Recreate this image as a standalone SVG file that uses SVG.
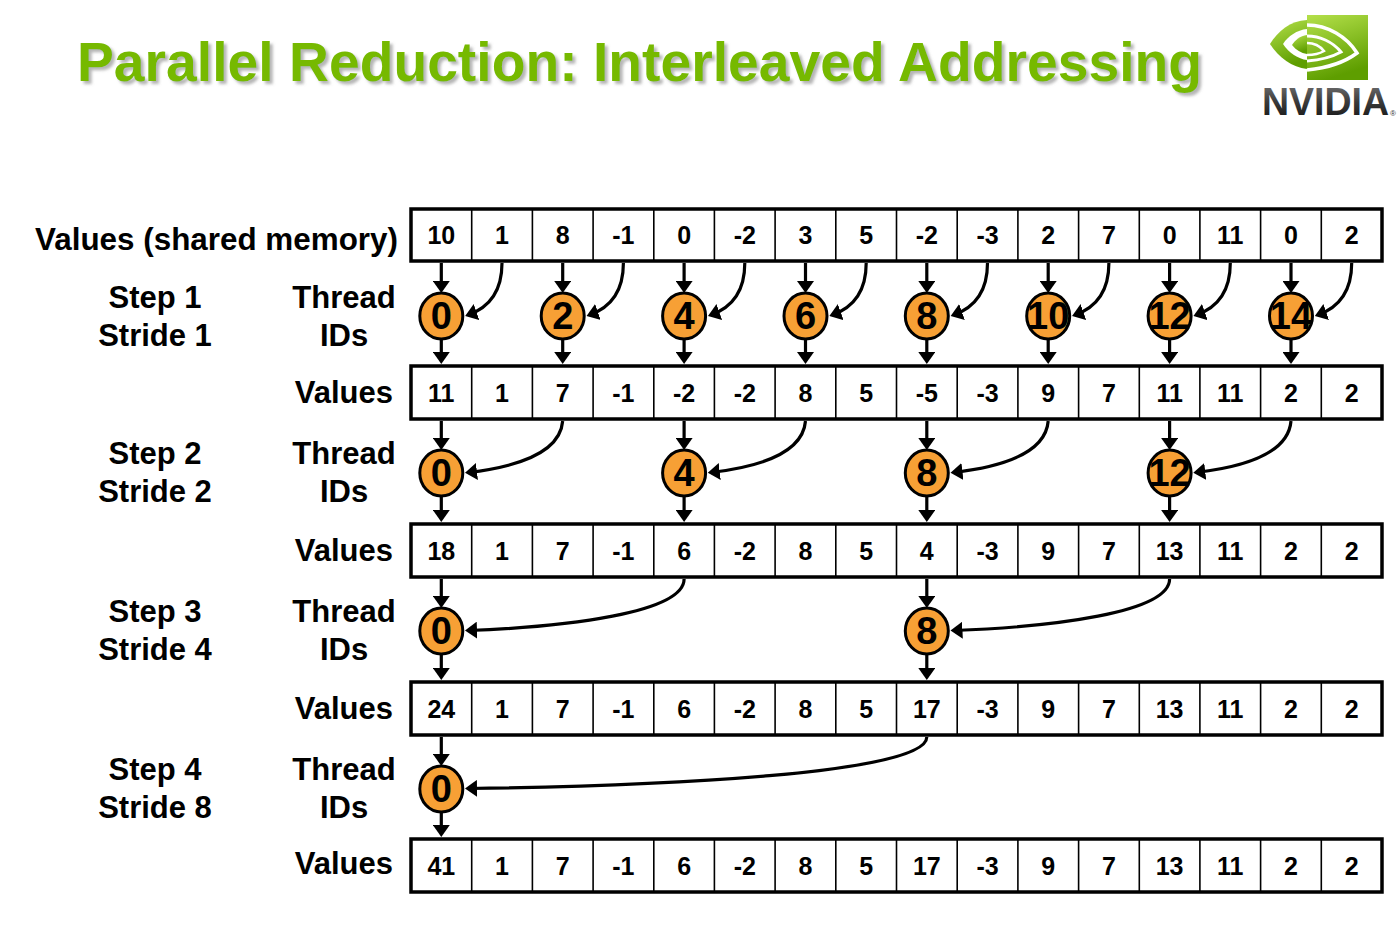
<svg xmlns="http://www.w3.org/2000/svg" width="1400" height="939" viewBox="0 0 1400 939">
<defs>
<style>
.title{font-family:"Liberation Sans",Arial,sans-serif;font-weight:bold;font-size:56px;fill:#76B900}
.lbl{font-family:"Liberation Sans",Arial,sans-serif;font-weight:bold;font-size:31px;fill:#000}
.cell{font-family:"Liberation Sans",Arial,sans-serif;font-weight:bold;font-size:25px;fill:#000;text-anchor:middle}
.tid{font-family:"Liberation Sans",Arial,sans-serif;font-weight:bold;font-size:38px;fill:#000;text-anchor:middle}
.box{fill:#fff;stroke:#000;stroke-width:3.5}
.div{stroke:#000;stroke-width:1.6}
.circ{fill:#F7A035;stroke:#000;stroke-width:3}
.arr{fill:none;stroke:#000;stroke-width:3.2;marker-end:url(#ah)}
</style>
<marker id="ah" viewBox="0 0 12 17" refX="9" refY="8.5" markerWidth="12" markerHeight="17" markerUnits="userSpaceOnUse" orient="auto">
<path d="M0,0 L12,8.5 L0,17 Z" fill="#000"/>
</marker>
<filter id="shadow" x="-5%" y="-30%" width="110%" height="160%">
<feDropShadow dx="3" dy="3" stdDeviation="1.5" flood-color="#777" flood-opacity="0.55"/>
</filter>
<linearGradient id="sq" x1="0" y1="0" x2="0.3" y2="1">
<stop offset="0" stop-color="#B4E04A"/>
<stop offset="1" stop-color="#5E9E00"/>
</linearGradient>
<linearGradient id="nv" x1="0" y1="0" x2="0" y2="1">
<stop offset="0" stop-color="#777"/>
<stop offset="0.5" stop-color="#3a3a3a"/>
<stop offset="1" stop-color="#111"/>
</linearGradient>
</defs>
<rect width="1400" height="939" fill="#fff"/>

<g id="title">
<text class="title" x="77" y="81" textLength="1125" lengthAdjust="spacingAndGlyphs" filter="url(#shadow)">Parallel Reduction: Interleaved Addressing</text>
</g>

<g id="logo">
<path d="M1307,20 C1290,21 1278,31 1270,44 C1279,58 1292,67 1307,69 Z" fill="url(#sq)"/>
<path d="M1307,29 C1297,30 1288,36 1283,44 C1289,53 1298,59 1307,60 Z" fill="#fff"/>
<path d="M1307,35 C1300,36 1295,40 1292,45 C1296,50 1301,53 1307,54 Z" fill="url(#sq)"/>
<rect x="1307" y="15" width="61" height="65" fill="url(#sq)"/>
<path d="M1307,25 C1328,25 1347,37 1357,53 C1345,62 1327,68 1307,70" fill="none" stroke="#fff" stroke-width="3.5"/>
<path d="M1307,36 C1320,36 1333,42 1341,52 C1332,57 1320,60 1307,61" fill="none" stroke="#fff" stroke-width="3"/>
<path d="M1307,43 C1314,43 1320,46 1324,51 C1319,54 1313,55 1307,55" fill="none" stroke="#fff" stroke-width="2.5"/>
<text x="1262" y="115" font-family="'Liberation Sans',Arial,sans-serif" font-weight="bold" font-size="38" textLength="127" lengthAdjust="spacingAndGlyphs" fill="url(#nv)">NVIDIA</text>
<text x="1390" y="116" font-family="'Liberation Sans',Arial,sans-serif" font-size="8" fill="#333">®</text>
</g>

<g id="labels">
<text class="lbl" x="398" y="250" text-anchor="end" textLength="363" lengthAdjust="spacingAndGlyphs">Values (shared memory)</text>
<text class="lbl" x="155" y="308" text-anchor="middle">Step 1</text>
<text class="lbl" x="155" y="346" text-anchor="middle">Stride 1</text>
<text class="lbl" x="344" y="308" text-anchor="middle">Thread</text>
<text class="lbl" x="344" y="346" text-anchor="middle">IDs</text>
<text class="lbl" x="393" y="403" text-anchor="end">Values</text>
<text class="lbl" x="155" y="464" text-anchor="middle">Step 2</text>
<text class="lbl" x="155" y="502" text-anchor="middle">Stride 2</text>
<text class="lbl" x="344" y="464" text-anchor="middle">Thread</text>
<text class="lbl" x="344" y="502" text-anchor="middle">IDs</text>
<text class="lbl" x="393" y="561" text-anchor="end">Values</text>
<text class="lbl" x="155" y="622" text-anchor="middle">Step 3</text>
<text class="lbl" x="155" y="660" text-anchor="middle">Stride 4</text>
<text class="lbl" x="344" y="622" text-anchor="middle">Thread</text>
<text class="lbl" x="344" y="660" text-anchor="middle">IDs</text>
<text class="lbl" x="393" y="719" text-anchor="end">Values</text>
<text class="lbl" x="155" y="780" text-anchor="middle">Step 4</text>
<text class="lbl" x="155" y="818" text-anchor="middle">Stride 8</text>
<text class="lbl" x="344" y="780" text-anchor="middle">Thread</text>
<text class="lbl" x="344" y="818" text-anchor="middle">IDs</text>
<text class="lbl" x="393" y="874" text-anchor="end">Values</text>
</g>

<g id="row0">
<rect class="box" x="411" y="209" width="971" height="52"/>
<path class="div" d="M471.7,209V261M532.4,209V261M593.1,209V261M653.8,209V261M714.4,209V261M775.1,209V261M835.8,209V261M896.5,209V261M957.2,209V261M1017.9,209V261M1078.6,209V261M1139.3,209V261M1199.9,209V261M1260.6,209V261M1321.3,209V261"/>
<text class="cell" y="244"><tspan x="441.3">10</tspan><tspan x="502">1</tspan><tspan x="562.7">8</tspan><tspan x="623.4">-1</tspan><tspan x="684.1">0</tspan><tspan x="744.8">-2</tspan><tspan x="805.5">3</tspan><tspan x="866.2">5</tspan><tspan x="926.8">-2</tspan><tspan x="987.5">-3</tspan><tspan x="1048.2">2</tspan><tspan x="1108.9">7</tspan><tspan x="1169.6">0</tspan><tspan x="1230.3">11</tspan><tspan x="1291">0</tspan><tspan x="1351.7">2</tspan></text>
</g>

<g id="row1">
<rect class="box" x="411" y="366" width="971" height="53"/>
<path class="div" d="M471.7,366V419M532.4,366V419M593.1,366V419M653.8,366V419M714.4,366V419M775.1,366V419M835.8,366V419M896.5,366V419M957.2,366V419M1017.9,366V419M1078.6,366V419M1139.3,366V419M1199.9,366V419M1260.6,366V419M1321.3,366V419"/>
<text class="cell" y="402"><tspan x="441.3">11</tspan><tspan x="502">1</tspan><tspan x="562.7">7</tspan><tspan x="623.4">-1</tspan><tspan x="684.1">-2</tspan><tspan x="744.8">-2</tspan><tspan x="805.5">8</tspan><tspan x="866.2">5</tspan><tspan x="926.8">-5</tspan><tspan x="987.5">-3</tspan><tspan x="1048.2">9</tspan><tspan x="1108.9">7</tspan><tspan x="1169.6">11</tspan><tspan x="1230.3">11</tspan><tspan x="1291">2</tspan><tspan x="1351.7">2</tspan></text>
</g>

<g id="row2">
<rect class="box" x="411" y="524" width="971" height="53"/>
<path class="div" d="M471.7,524V577M532.4,524V577M593.1,524V577M653.8,524V577M714.4,524V577M775.1,524V577M835.8,524V577M896.5,524V577M957.2,524V577M1017.9,524V577M1078.6,524V577M1139.3,524V577M1199.9,524V577M1260.6,524V577M1321.3,524V577"/>
<text class="cell" y="560"><tspan x="441.3">18</tspan><tspan x="502">1</tspan><tspan x="562.7">7</tspan><tspan x="623.4">-1</tspan><tspan x="684.1">6</tspan><tspan x="744.8">-2</tspan><tspan x="805.5">8</tspan><tspan x="866.2">5</tspan><tspan x="926.8">4</tspan><tspan x="987.5">-3</tspan><tspan x="1048.2">9</tspan><tspan x="1108.9">7</tspan><tspan x="1169.6">13</tspan><tspan x="1230.3">11</tspan><tspan x="1291">2</tspan><tspan x="1351.7">2</tspan></text>
</g>

<g id="row3">
<rect class="box" x="411" y="682" width="971" height="53"/>
<path class="div" d="M471.7,682V735M532.4,682V735M593.1,682V735M653.8,682V735M714.4,682V735M775.1,682V735M835.8,682V735M896.5,682V735M957.2,682V735M1017.9,682V735M1078.6,682V735M1139.3,682V735M1199.9,682V735M1260.6,682V735M1321.3,682V735"/>
<text class="cell" y="718"><tspan x="441.3">24</tspan><tspan x="502">1</tspan><tspan x="562.7">7</tspan><tspan x="623.4">-1</tspan><tspan x="684.1">6</tspan><tspan x="744.8">-2</tspan><tspan x="805.5">8</tspan><tspan x="866.2">5</tspan><tspan x="926.8">17</tspan><tspan x="987.5">-3</tspan><tspan x="1048.2">9</tspan><tspan x="1108.9">7</tspan><tspan x="1169.6">13</tspan><tspan x="1230.3">11</tspan><tspan x="1291">2</tspan><tspan x="1351.7">2</tspan></text>
</g>

<g id="row4">
<rect class="box" x="411" y="839" width="971" height="53"/>
<path class="div" d="M471.7,839V892M532.4,839V892M593.1,839V892M653.8,839V892M714.4,839V892M775.1,839V892M835.8,839V892M896.5,839V892M957.2,839V892M1017.9,839V892M1078.6,839V892M1139.3,839V892M1199.9,839V892M1260.6,839V892M1321.3,839V892"/>
<text class="cell" y="875"><tspan x="441.3">41</tspan><tspan x="502">1</tspan><tspan x="562.7">7</tspan><tspan x="623.4">-1</tspan><tspan x="684.1">6</tspan><tspan x="744.8">-2</tspan><tspan x="805.5">8</tspan><tspan x="866.2">5</tspan><tspan x="926.8">17</tspan><tspan x="987.5">-3</tspan><tspan x="1048.2">9</tspan><tspan x="1108.9">7</tspan><tspan x="1169.6">13</tspan><tspan x="1230.3">11</tspan><tspan x="1291">2</tspan><tspan x="1351.7">2</tspan></text>
</g>

<g id="connectors">
<!-- step 1 -->
<path class="arr" d="M441.3,263V290"/><path class="arr" d="M441.3,339V361"/>
<path class="arr" d="M562.7,263V290"/><path class="arr" d="M562.7,339V361"/>
<path class="arr" d="M684.1,263V290"/><path class="arr" d="M684.1,339V361"/>
<path class="arr" d="M805.5,263V290"/><path class="arr" d="M805.5,339V361"/>
<path class="arr" d="M926.8,263V290"/><path class="arr" d="M926.8,339V361"/>
<path class="arr" d="M1048.2,263V290"/><path class="arr" d="M1048.2,339V361"/>
<path class="arr" d="M1169.6,263V290"/><path class="arr" d="M1169.6,339V361"/>
<path class="arr" d="M1291,263V290"/><path class="arr" d="M1291,339V361"/>
<path class="arr" d="M502,263 C502,292 488,308 468,315"/>
<path class="arr" d="M623.4,263 C623.4,292 609.4,308 589.4,315"/>
<path class="arr" d="M744.8,263 C744.8,292 730.8,308 710.8,315"/>
<path class="arr" d="M866.2,263 C866.2,292 852.2,308 832.2,315"/>
<path class="arr" d="M987.5,263 C987.5,292 973.5,308 953.5,315"/>
<path class="arr" d="M1108.9,263 C1108.9,292 1094.9,308 1074.9,315"/>
<path class="arr" d="M1230.3,263 C1230.3,292 1216.3,308 1196.3,315"/>
<path class="arr" d="M1351.7,263 C1351.7,292 1337.7,308 1317.7,315"/>
<!-- step 2 -->
<path class="arr" d="M441.3,421V447"/><path class="arr" d="M441.3,496V519"/>
<path class="arr" d="M684.1,421V447"/><path class="arr" d="M684.1,496V519"/>
<path class="arr" d="M926.8,421V447"/><path class="arr" d="M926.8,496V519"/>
<path class="arr" d="M1169.6,421V447"/><path class="arr" d="M1169.6,496V519"/>
<path class="arr" d="M562.7,421 C560,454 515,467 468,472.5"/>
<path class="arr" d="M805.5,421 C802.8,454 757.8,467 710.8,472.5"/>
<path class="arr" d="M1048.2,421 C1045.5,454 1000.5,467 953.5,472.5"/>
<path class="arr" d="M1291,421 C1288.3,454 1243.3,467 1196.3,472.5"/>
<!-- step 3 -->
<path class="arr" d="M441.3,579V605"/><path class="arr" d="M441.3,654V677"/>
<path class="arr" d="M926.8,579V605"/><path class="arr" d="M926.8,654V677"/>
<path class="arr" d="M684.1,579 C684.1,613 565,627 468,630.5"/>
<path class="arr" d="M1169.6,579 C1169.6,613 1050.5,627 953.5,630.5"/>
<!-- step 4 -->
<path class="arr" d="M441.3,737V763"/><path class="arr" d="M441.3,812V834"/>
<path class="arr" d="M926.8,737 C926.8,774 660,786 468,788.5"/>
</g>

<g id="threads">
<g id="s1t0"><ellipse class="circ" cx="441.3" cy="316" rx="21.5" ry="23"/><text class="tid" x="441.3" y="329">0</text></g>
<g id="s1t2"><ellipse class="circ" cx="562.7" cy="316" rx="21.5" ry="23"/><text class="tid" x="562.7" y="329">2</text></g>
<g id="s1t4"><ellipse class="circ" cx="684.1" cy="316" rx="21.5" ry="23"/><text class="tid" x="684.1" y="329">4</text></g>
<g id="s1t6"><ellipse class="circ" cx="805.5" cy="316" rx="21.5" ry="23"/><text class="tid" x="805.5" y="329">6</text></g>
<g id="s1t8"><ellipse class="circ" cx="926.8" cy="316" rx="21.5" ry="23"/><text class="tid" x="926.8" y="329">8</text></g>
<g id="s1t10"><ellipse class="circ" cx="1048.2" cy="316" rx="21.5" ry="23"/><text class="tid" x="1048.2" y="329">10</text></g>
<g id="s1t12"><ellipse class="circ" cx="1169.6" cy="316" rx="21.5" ry="23"/><text class="tid" x="1169.6" y="329">12</text></g>
<g id="s1t14"><ellipse class="circ" cx="1291" cy="316" rx="21.5" ry="23"/><text class="tid" x="1291" y="329">14</text></g>
<g id="s2t0"><ellipse class="circ" cx="441.3" cy="473" rx="21.5" ry="23"/><text class="tid" x="441.3" y="486">0</text></g>
<g id="s2t4"><ellipse class="circ" cx="684.1" cy="473" rx="21.5" ry="23"/><text class="tid" x="684.1" y="486">4</text></g>
<g id="s2t8"><ellipse class="circ" cx="926.8" cy="473" rx="21.5" ry="23"/><text class="tid" x="926.8" y="486">8</text></g>
<g id="s2t12"><ellipse class="circ" cx="1169.6" cy="473" rx="21.5" ry="23"/><text class="tid" x="1169.6" y="486">12</text></g>
<g id="s3t0"><ellipse class="circ" cx="441.3" cy="631" rx="21.5" ry="23"/><text class="tid" x="441.3" y="644">0</text></g>
<g id="s3t8"><ellipse class="circ" cx="926.8" cy="631" rx="21.5" ry="23"/><text class="tid" x="926.8" y="644">8</text></g>
<g id="s4t0"><ellipse class="circ" cx="441.3" cy="789" rx="21.5" ry="23"/><text class="tid" x="441.3" y="802">0</text></g>
</g>
</svg>
